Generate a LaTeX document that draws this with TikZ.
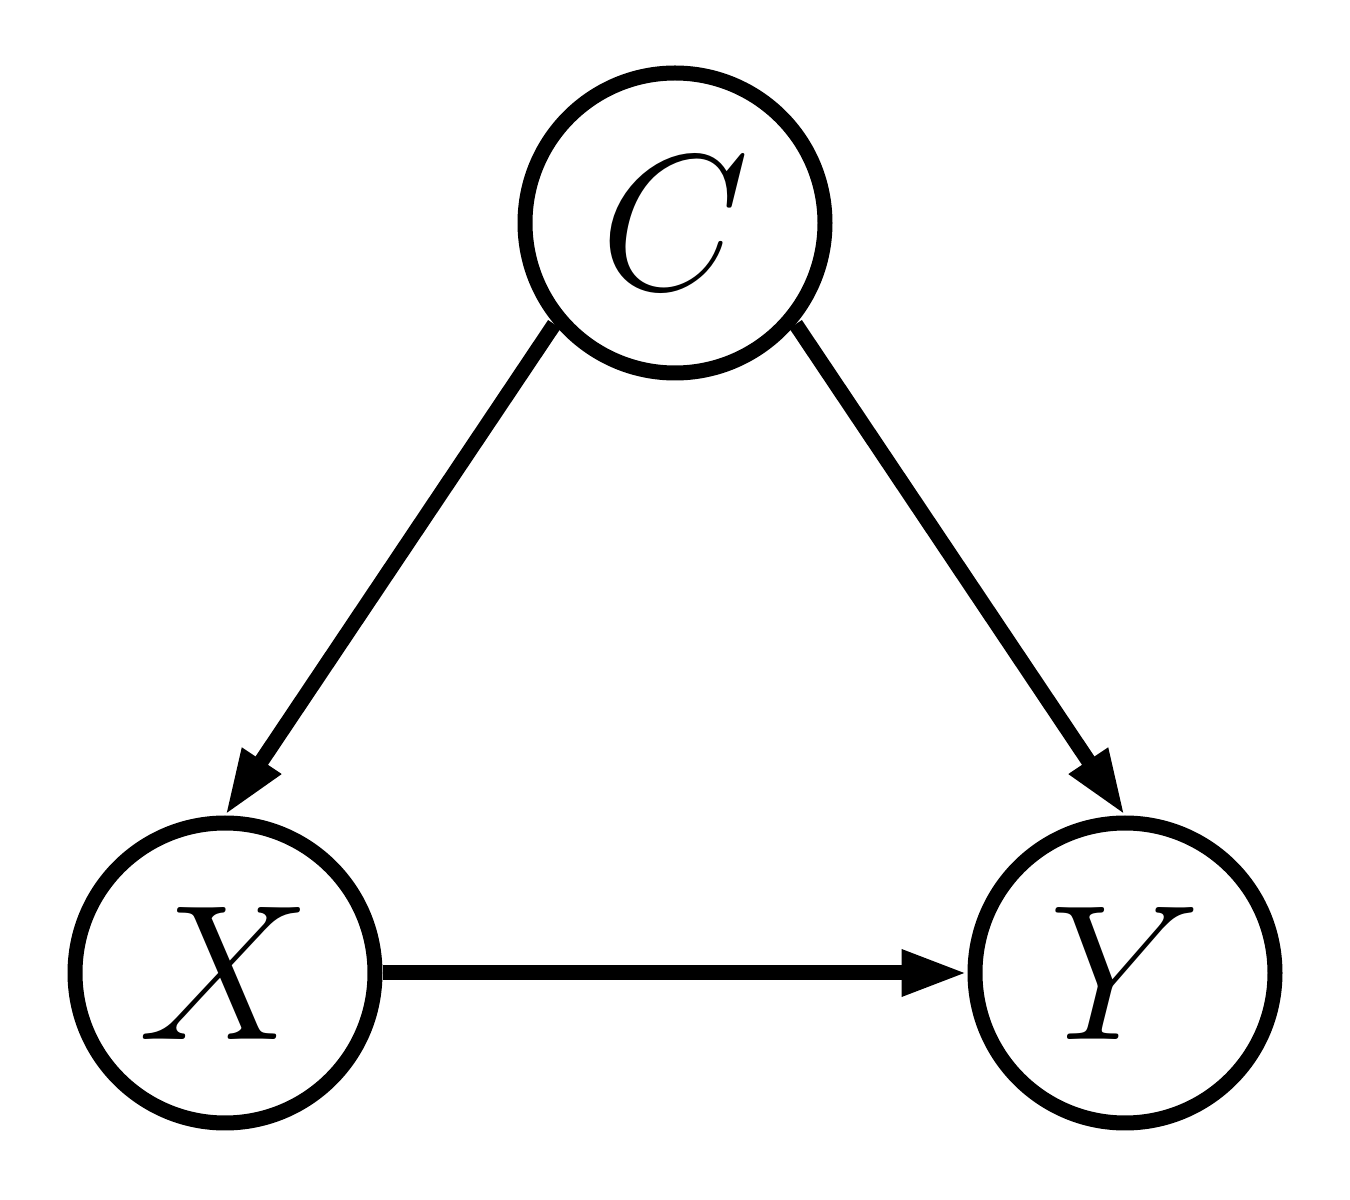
\documentclass[tikz,border=0pt]{standalone}
\usepackage{graphicx}
\usetikzlibrary{arrows.meta}
\newcommand{\bigvar}[1]{\scalebox{2.21}{\Huge$#1$}}
\tikzset{
  var/.style={circle, draw=black, line width=0.15cm, minimum size=3.0cm, inner sep=0pt},
  edge/.style={line width=0.15cm, -{Triangle[length=0.66cm, width=0.43cm]}}
}
\begin{document}
\begin{tikzpicture}
\useasboundingbox (0,0) rectangle (13.5,12);
\node[var] (C) at (6.75,9.77) {\bigvar{C}};
\node[var] (X) at (2.25,2.27) {\bigvar{X}};
\node[var] (Y) at (11.25,2.27) {\bigvar{Y}};
\draw[edge] (C.220) -- (X.north);
\draw[edge] (C.320) -- (Y.north);
\draw[edge] (X) -- (Y);
\end{tikzpicture}
\end{document}
